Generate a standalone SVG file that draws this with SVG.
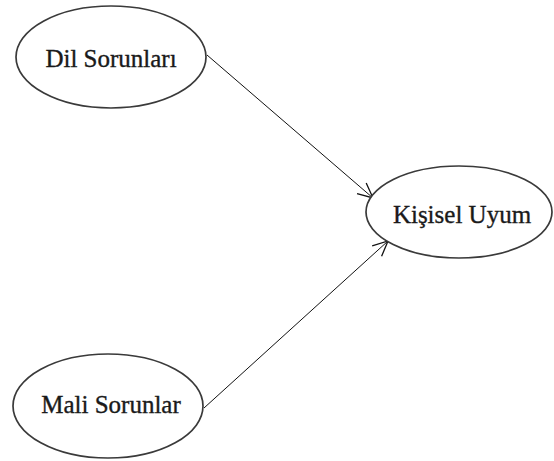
<svg xmlns="http://www.w3.org/2000/svg" width="554" height="461" viewBox="0 0 554 461">
<style>
.node ellipse{fill:#fff;stroke:#3a3a3a;stroke-width:1.7}
.node text{font-family:"Liberation Serif","Times New Roman",serif;font-size:25px;fill:#1a1a1a;stroke:#1a1a1a;stroke-width:0.35;text-anchor:middle}
.edge{stroke:#111;stroke-width:1;fill:none}
</style>
<defs>
<marker id="arr" viewBox="0 0 20 20" refX="19" refY="10" markerWidth="20" markerHeight="20" markerUnits="userSpaceOnUse" orient="auto">
<path d="M4,3 L19,10 L4,17" fill="none" stroke="#111" stroke-width="1.3"/>
</marker>
</defs>
<g id="connectors">
<line class="edge" x1="207" y1="55" x2="373" y2="198" marker-end="url(#arr)"/>
<line class="edge" x1="204" y1="408" x2="388" y2="241" marker-end="url(#arr)"/>
</g>
<g id="dil" class="node">
<ellipse cx="111" cy="57" rx="95" ry="51"/>
<text x="111" y="67">Dil Sorunları</text>
</g>
<g id="kisisel" class="node">
<ellipse cx="459" cy="212" rx="93" ry="46"/>
<text x="462" y="223">Kişisel Uyum</text>
</g>
<g id="mali" class="node">
<ellipse cx="108" cy="406" rx="95" ry="52"/>
<text x="111" y="413">Mali Sorunlar</text>
</g>
</svg>
